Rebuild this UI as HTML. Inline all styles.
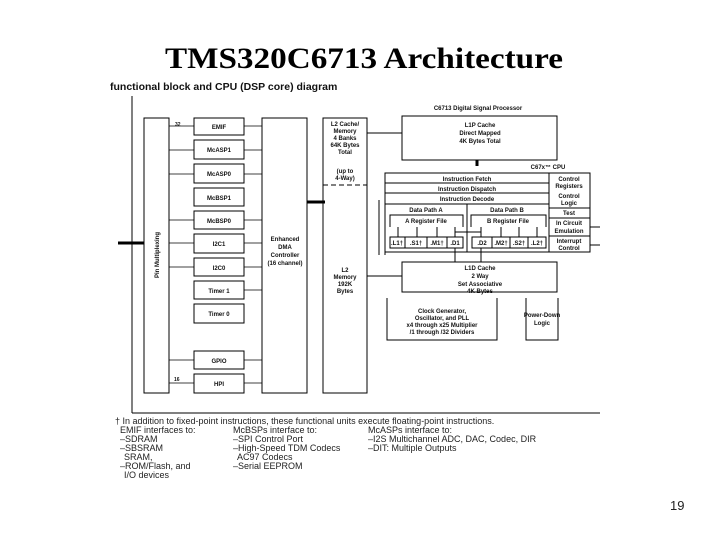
<!DOCTYPE html>
<html><head><meta charset="utf-8"><style>
html,body{margin:0;padding:0;background:#fff;}
svg{display:block;}
text{font-family:"Liberation Sans",sans-serif;font-weight:bold;fill:#111;}
.s{font-size:6px;}
.f{font-size:9px;font-weight:normal;fill:#222;}
</style></head><body>
<svg width="720" height="540" viewBox="0 0 720 540" xmlns="http://www.w3.org/2000/svg">
<text x="165" y="68" textLength="398" lengthAdjust="spacingAndGlyphs" style="font-family:'Liberation Serif',serif;font-size:30px;font-weight:bold;fill:#000">TMS320C6713 Architecture</text>
<text x="110" y="90" style="font-size:10.5px">functional block and CPU (DSP core) diagram</text>
<g stroke="#000" fill="none" stroke-width="1">
<line x1="132" y1="96" x2="132" y2="413"/>
<line x1="132" y1="413" x2="600" y2="413"/>
<rect x="144" y="118" width="25" height="275"/>
<line x1="118" y1="243" x2="144" y2="243" stroke-width="3"/>
<rect x="262" y="118" width="45" height="275"/>
<line x1="307" y1="202" x2="325" y2="202" stroke-width="3"/>
<rect x="323" y="118" width="44" height="275"/>
<line x1="323" y1="185" x2="367" y2="185" stroke-dasharray="5,3"/>
<line x1="367" y1="133" x2="402" y2="133"/>
<line x1="367" y1="276" x2="402" y2="276"/>
<rect x="402" y="116" width="155" height="44"/>
<line x1="477" y1="160" x2="477" y2="166" stroke-width="3"/>
<line x1="379" y1="200" x2="379" y2="255"/>
<line x1="385" y1="173" x2="385" y2="255"/>
<rect x="385" y="173" width="205" height="79"/>
<line x1="385" y1="183" x2="549" y2="183"/>
<line x1="385" y1="193" x2="549" y2="193"/>
<line x1="385" y1="204" x2="549" y2="204"/>
<line x1="549" y1="173" x2="549" y2="252"/>
<line x1="549" y1="208" x2="590" y2="208"/>
<line x1="549" y1="218" x2="590" y2="218"/>
<line x1="549" y1="236" x2="590" y2="236"/>
<line x1="467" y1="204" x2="467" y2="252"/>
<polyline points="390,227 390,215 463,215 463,227"/>
<polyline points="471,227 471,215 546,215 546,227"/>
<rect x="390" y="237" width="73" height="11"/>
<line x1="405" y1="237" x2="405" y2="248"/><line x1="427" y1="237" x2="427" y2="248"/><line x1="447" y1="237" x2="447" y2="248"/>
<rect x="472" y="237" width="74" height="11"/>
<line x1="492" y1="237" x2="492" y2="248"/><line x1="510" y1="237" x2="510" y2="248"/><line x1="528" y1="237" x2="528" y2="248"/>
<line x1="398" y1="227" x2="398" y2="237"/><line x1="417" y1="227" x2="417" y2="237"/><line x1="437" y1="227" x2="437" y2="237"/><line x1="455" y1="227" x2="455" y2="237"/>
<line x1="481" y1="227" x2="481" y2="237"/><line x1="501" y1="227" x2="501" y2="237"/><line x1="519" y1="227" x2="519" y2="237"/><line x1="537" y1="227" x2="537" y2="237"/>
<line x1="455" y1="232" x2="481" y2="232"/>
<line x1="455" y1="248" x2="455" y2="262"/><line x1="481" y1="248" x2="481" y2="262"/>
<rect x="402" y="262" width="155" height="30"/>
<polyline points="387,298 387,340 497,340 497,298"/>
<polyline points="526,298 526,340 558,340 558,298"/>
<line x1="590" y1="227" x2="600" y2="227"/><line x1="590" y1="245" x2="600" y2="245"/>
</g>
<g stroke="#000" fill="none">
<rect x="194" y="118" width="50" height="17"/>
<rect x="194" y="140" width="50" height="19"/>
<rect x="194" y="164" width="50" height="19"/>
<rect x="194" y="188" width="50" height="18"/>
<rect x="194" y="211" width="50" height="18"/>
<rect x="194" y="234" width="50" height="19"/>
<rect x="194" y="258" width="50" height="18"/>
<rect x="194" y="281" width="50" height="18"/>
<rect x="194" y="304" width="50" height="19"/>
<rect x="194" y="351" width="50" height="18"/>
<rect x="194" y="374" width="50" height="19"/>
<g stroke-width="0.8">
<line x1="169" y1="126" x2="194" y2="126"/><line x1="244" y1="126" x2="262" y2="126"/>
<line x1="169" y1="150" x2="194" y2="150"/><line x1="244" y1="150" x2="262" y2="150"/>
<line x1="169" y1="174" x2="194" y2="174"/><line x1="244" y1="174" x2="262" y2="174"/>
<line x1="169" y1="220" x2="194" y2="220"/><line x1="244" y1="220" x2="262" y2="220"/>
<line x1="169" y1="243" x2="194" y2="243"/><line x1="244" y1="243" x2="262" y2="243"/>
<line x1="169" y1="267" x2="194" y2="267"/><line x1="244" y1="267" x2="262" y2="267"/>
<line x1="244" y1="290" x2="262" y2="290"/>
<line x1="169" y1="360" x2="194" y2="360"/><line x1="244" y1="360" x2="262" y2="360"/>
<line x1="169" y1="383" x2="194" y2="383"/><line x1="244" y1="383" x2="262" y2="383"/>
</g>
</g>
<text x="159" y="255" transform="rotate(-90 159 255)" text-anchor="middle" class="s">Pin Multiplexing</text>
<g class="s" text-anchor="middle">
<text x="219" y="129" class="s">EMIF</text>
<text x="219" y="152" class="s">McASP1</text>
<text x="219" y="176" class="s">McASP0</text>
<text x="219" y="200" class="s">McBSP1</text>
<text x="219" y="223" class="s">McBSP0</text>
<text x="219" y="246" class="s">I2C1</text>
<text x="219" y="270" class="s">I2C0</text>
<text x="219" y="293" class="s">Timer 1</text>
<text x="219" y="316" class="s">Timer 0</text>
<text x="219" y="363" class="s">GPIO</text>
<text x="219" y="386" class="s">HPI</text>
<text x="285" y="241" class="s">Enhanced</text><text x="285" y="249" class="s">DMA</text><text x="285" y="257" class="s">Controller</text><text x="285" y="265" class="s">(16 channel)</text>
<text x="345" y="126" class="s">L2 Cache/</text><text x="345" y="133" class="s">Memory</text><text x="345" y="140" class="s">4 Banks</text><text x="345" y="147" class="s">64K Bytes</text><text x="345" y="154" class="s">Total</text>
<text x="345" y="173" class="s">(up to</text><text x="345" y="180" class="s">4-Way)</text>
<text x="345" y="272" class="s">L2</text><text x="345" y="279" class="s">Memory</text><text x="345" y="286" class="s">192K</text><text x="345" y="293" class="s">Bytes</text>
<text x="478" y="110" class="s">C6713 Digital Signal Processor</text>
<text x="480" y="127" class="s">L1P Cache</text><text x="480" y="135" class="s">Direct Mapped</text><text x="480" y="143" class="s">4K Bytes Total</text>
<text x="548" y="169" class="s">C67x™ CPU</text>
<text x="467" y="181" class="s">Instruction Fetch</text>
<text x="467" y="191" class="s">Instruction Dispatch</text>
<text x="467" y="201" class="s">Instruction Decode</text>
<text x="426" y="212" class="s">Data Path A</text><text x="507" y="212" class="s">Data Path B</text>
<text x="426" y="223" class="s">A Register File</text><text x="508" y="223" class="s">B Register File</text>
<text x="397" y="245" class="s">.L1†</text><text x="416" y="245" class="s">.S1†</text><text x="437" y="245" class="s">.M1†</text><text x="455" y="245" class="s">.D1</text>
<text x="482" y="245" class="s">.D2</text><text x="501" y="245" class="s">.M2†</text><text x="519" y="245" class="s">.S2†</text><text x="537" y="245" class="s">.L2†</text>
<text x="569" y="181" class="s">Control</text><text x="569" y="188" class="s">Registers</text>
<text x="569" y="198" class="s">Control</text><text x="569" y="205" class="s">Logic</text>
<text x="569" y="215" class="s">Test</text>
<text x="569" y="225" class="s">In Circuit</text><text x="569" y="233" class="s">Emulation</text>
<text x="569" y="243" class="s">Interrupt</text><text x="569" y="250" class="s">Control</text>
<text x="480" y="270" class="s">L1D Cache</text><text x="480" y="278" class="s">2 Way</text><text x="480" y="286" class="s">Set Associative</text><text x="480" y="293" class="s">4K Bytes</text>
<text x="442" y="313" class="s">Clock Generator,</text><text x="442" y="320" class="s">Oscillator, and PLL</text><text x="442" y="327" class="s">x4 through x25 Multiplier</text><text x="442" y="334" class="s">/1 through /32 Dividers</text>
<text x="542" y="317" class="s">Power-Down</text><text x="542" y="325" class="s">Logic</text>
</g>
<text x="175" y="126" class="s" style="font-size:5px">32</text>
<text x="174" y="381" class="s" style="font-size:5px">16</text>
<g class="f">
<text x="115" y="424" class="f">† In addition to fixed-point instructions, these functional units execute floating-point instructions.</text>
<text x="120" y="433" class="f">EMIF interfaces to:</text><text x="120" y="442" class="f">–SDRAM</text><text x="120" y="451" class="f">–SBSRAM</text><text x="124" y="460" class="f">SRAM,</text><text x="120" y="469" class="f">–ROM/Flash, and</text><text x="124" y="478" class="f">I/O devices</text>
<text x="233" y="433" class="f">McBSPs interface to:</text><text x="233" y="442" class="f">–SPI Control Port</text><text x="233" y="451" class="f">–High-Speed TDM Codecs</text><text x="237" y="460" class="f">AC97 Codecs</text><text x="233" y="469" class="f">–Serial EEPROM</text>
<text x="368" y="433" class="f">McASPs interface to:</text><text x="368" y="442" class="f">–I2S Multichannel ADC, DAC, Codec, DIR</text><text x="368" y="451" class="f">–DIT: Multiple Outputs</text>
</g>
<text x="670" y="510" style="font-size:13px;font-weight:normal;fill:#222">19</text>
</svg>
</body></html>
